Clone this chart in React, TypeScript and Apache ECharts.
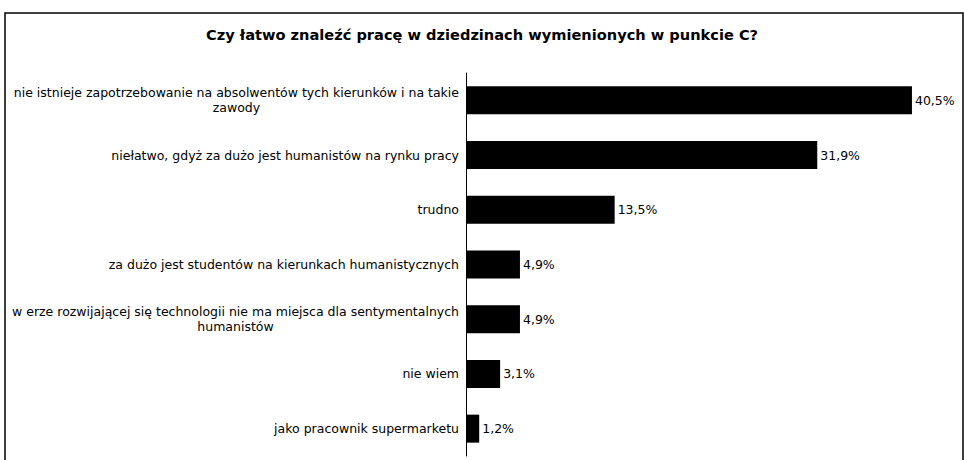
import React, { useEffect, useRef } from "react";
import * as echarts from "echarts";

const title = "Czy łatwo znaleźć pracę w dziedzinach wymienionych w punkcie C?";
const categories = [
  "nie istnieje zapotrzebowanie na absolwentów tych kierunków i na takie\nzawody",
  "niełatwo, gdyż za dużo jest humanistów na rynku pracy",
  "trudno",
  "za dużo jest studentów na kierunkach humanistycznych",
  "w erze rozwijającej się technologii nie ma miejsca dla sentymentalnych\nhumanistów",
  "nie wiem",
  "jako pracownik supermarketu",
];
const values = [40.5, 31.9, 13.5, 4.9, 4.9, 3.1, 1.2];

const FONT = "DejaVu Sans, Liberation Sans, Arial, sans-serif";

export default function App() {
  const ref = useRef<HTMLDivElement>(null);
  useEffect(() => {
    if (!ref.current) return;
    const chart = echarts.init(ref.current, undefined, { renderer: "svg" });
    chart.setOption({
      animation: false,
      backgroundColor: "#ffffff",
      textStyle: { fontFamily: FONT },
      title: {
        text: title,
        left: 477,
        textAlign: "center",
        top: 22,
        textStyle: { fontSize: 14.6, fontWeight: "bold", color: "#000", fontFamily: FONT },
      },
      graphic: [
        {
          type: "rect",
          shape: { x: 5, y: 13, width: 958, height: 460 },
          style: { fill: "none", stroke: "#000", lineWidth: 1.5 },
          silent: true,
          z: 10,
        },
      ],
      grid: { left: 466, top: 73, width: 484.5, height: 383, containLabel: false },
      xAxis: {
        type: "value",
        min: 0,
        max: 44,
        show: false,
      },
      yAxis: {
        type: "category",
        data: categories,
        inverse: true,
        axisLine: { show: true, lineStyle: { color: "#000", width: 1 } },
        axisTick: { show: false },
        axisLabel: {
          color: "#000",
          fontSize: 12.5,
          margin: 7,
          lineHeight: 15,
          align: "right",
          formatter: (v: string) =>
            v
              .split("\n")
              .map((l) => "{c|" + l + "}")
              .join("\n"),
          rich: { c: { align: "center", fontSize: 12.5, lineHeight: 15, color: "#000", fontFamily: FONT } },
        },
      },
      series: [
        {
          type: "bar",
          data: values,
          barWidth: 28,
          itemStyle: { color: "#000" },
          label: {
            show: true,
            position: "right",
            distance: 3,
            color: "#000",
            fontSize: 12.5,
            fontFamily: FONT,
            formatter: (p: any) => String(p.value.toFixed(1)).replace(".", ",") + "%",
          },
        },
      ],
    });
    return () => chart.dispose();
  }, []);
  return <div ref={ref} style={{ width: 964, height: 460, position: "absolute", left: 0, top: 0 }} />;
}
